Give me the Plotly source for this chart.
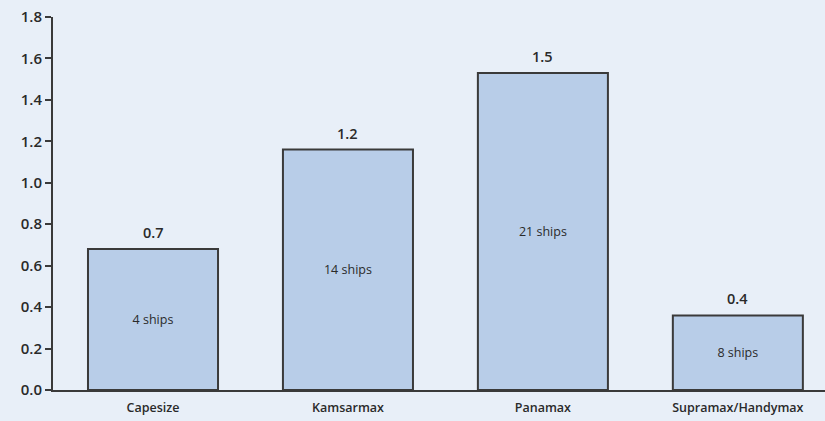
import plotly.graph_objects as go

categories = ["Capesize", "Kamsarmax", "Panamax", "Supramax/Handymax"]
values = [0.68, 1.16, 1.53, 0.36]
ship_counts = [4, 14, 21, 8]
y_ticks = [0.0, 0.2, 0.4, 0.6, 0.8, 1.0, 1.2, 1.4, 1.6, 1.8]

BG = "#e8eff8"
BAR = "#b8cde8"
EDGE = "#3a3a3a"
TEXT = "#2a2a2a"
FONT = "Open Sans"

fig = go.Figure()
fig.add_trace(go.Bar(
    x=categories,
    y=values,
    width=0.667,
    marker=dict(color=BAR, line=dict(color=EDGE, width=2)),
    text=[f"{n} ships" for n in ship_counts],
    textposition="inside",
    insidetextanchor="middle",
    textangle=0,
    textfont=dict(family=FONT, size=12.5, color=TEXT),
    hoverinfo="skip",
))

# value labels above each bar
for c, v in zip(categories, values):
    fig.add_annotation(
        x=c, y=v, text=f"{v:.1f}", showarrow=False,
        yanchor="bottom", yshift=5,
        font=dict(family=FONT, size=14.5, color=TEXT, weight=600),
    )

fig.update_layout(
    width=825, height=421,
    margin=dict(l=53, r=0, t=17, b=31),
    paper_bgcolor=BG, plot_bgcolor=BG,
    showlegend=False,
    font=dict(family=FONT, color=TEXT),
)
fig.update_xaxes(
    range=[-0.513, 3.447],
    showgrid=False, zeroline=False,
    showline=True, linecolor=EDGE, linewidth=2,
    ticks="", ticklabelstandoff=5,
    tickfont=dict(family=FONT, size=12.5, color=TEXT, weight=600),
)
fig.update_yaxes(
    range=[0, 1.8],
    tickvals=y_ticks, ticktext=[f"{t:.1f}" for t in y_ticks],
    showgrid=False, zeroline=False,
    showline=True, linecolor=EDGE, linewidth=2,
    ticks="outside", ticklen=6, tickwidth=1.5, tickcolor=EDGE,
    tickfont=dict(family=FONT, size=15, color=TEXT, weight=600),
)

fig.write_html("out.html")
